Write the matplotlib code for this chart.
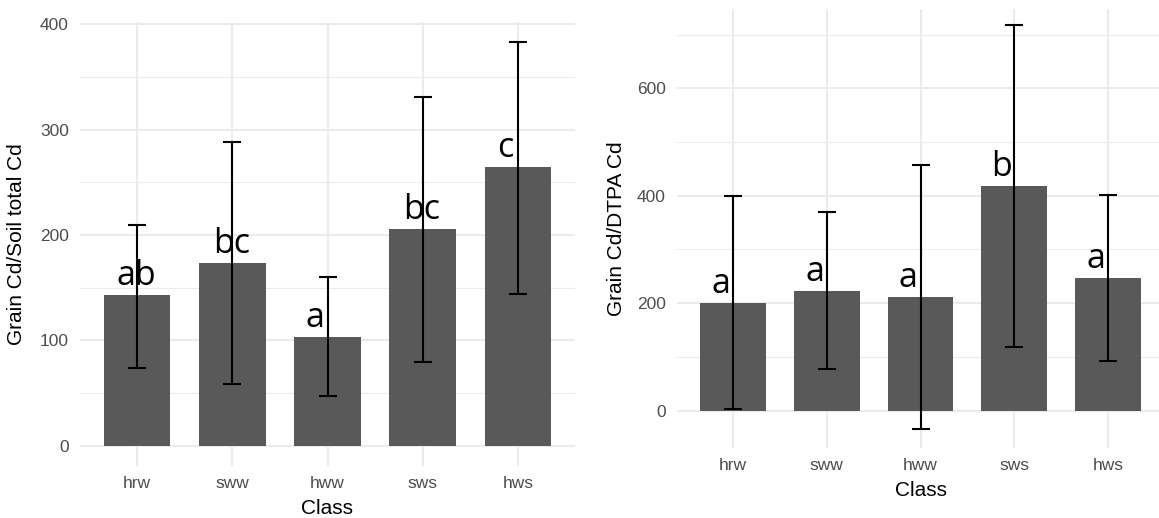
import matplotlib
matplotlib.use("Agg")
import matplotlib.pyplot as plt
from matplotlib.ticker import MultipleLocator

# Classes on the x axis
classes = ["hrw", "sww", "hww", "sws", "hws"]

# Grain Cd / soil total Cd: means, error-bar bounds and significance letters
soil_mean = [143, 173.5, 103, 205.5, 264.5]
soil_lo = [74, 58.5, 47, 79.5, 144]
soil_hi = [210, 288.5, 160, 331.5, 383]
soil_letters = ["ab", "bc", "a", "bc", "c"]

# Grain Cd / DTPA Cd: means, error-bar bounds and significance letters
dtpa_mean = [200, 222.5, 211.5, 418, 247]
dtpa_lo = [3.5, 77, -34, 119, 92.5]
dtpa_hi = [399, 369, 457, 718, 401.5]
dtpa_letters = ["a", "a", "a", "b", "a"]

AXIS_FONT = ["Liberation Sans", "DejaVu Sans"]
LETTER_FONT = ["Open Sans", "DejaVu Sans"]
GRID = "#ebebeb"


def panel(ax, means, lo, hi, letters, ylabel, ylim, major, label_x):
    x = list(range(1, len(classes) + 1))
    ax.bar(x, means, width=0.7, color="#595959", zorder=2)
    yerr = [[m - l for m, l in zip(means, lo)], [h - m for m, h in zip(means, hi)]]
    ax.errorbar(x, means, yerr=yerr, fmt="none", ecolor="black",
                elinewidth=1.5, capsize=6.7, capthick=1.5, zorder=3)
    for xi, m, lab in zip(x, means, letters):
        dx = -8.8 if len(lab) == 1 else -0.8
        ax.annotate(lab, xy=(xi, m), xytext=(dx, 7.5), textcoords="offset points",
                    ha="center", va="baseline", fontsize=24.5,
                    family=LETTER_FONT, color="black", zorder=4)

    ax.set_xlim(0.4, len(classes) + 0.6)
    ax.set_ylim(*ylim)
    ax.set_xticks(x)
    ax.set_xticklabels(classes)
    ax.yaxis.set_major_locator(MultipleLocator(major))
    ax.yaxis.set_minor_locator(MultipleLocator(major / 2))

    ax.grid(True, which="major", axis="both", color=GRID, lw=1.5, zorder=0)
    ax.grid(True, which="minor", axis="y", color=GRID, lw=0.8, zorder=0)
    ax.set_axisbelow(True)
    for s in ax.spines.values():
        s.set_visible(False)
    ax.tick_params(which="both", length=0)
    ax.tick_params(axis="x", pad=7, labelsize=12.5, labelcolor="#4d4d4d")
    ax.tick_params(axis="y", pad=8, labelsize=12.5, labelcolor="#4d4d4d")
    for t in ax.get_xticklabels() + ax.get_yticklabels():
        t.set_family(AXIS_FONT)

    ax.set_xlabel("Class", fontsize=15, family=AXIS_FONT, color="black")
    ax.set_ylabel(ylabel, fontsize=15, family=AXIS_FONT, color="black")
    ax.yaxis.set_label_coords(label_x, 0.5)


fig = plt.figure(figsize=(11.59, 5.18), dpi=100)
W, H = 1159, 518

ax1 = fig.add_axes([80 / W, 1 - 466 / H, 495 / W, 444 / H])
panel(ax1, soil_mean, soil_lo, soil_hi, soil_letters,
      "Grain Cd/Soil total Cd", (-19.15, 402.2), 100, -0.109)
ax1.xaxis.set_label_coords(0.5, -0.075)

ax2 = fig.add_axes([677 / W, 1 - 448.3 / H, 487 / W, 439 / H])
panel(ax2, dtpa_mean, dtpa_lo, dtpa_hi, dtpa_letters,
      "Grain Cd/DTPA Cd", (-70, 747), 200, -0.105)
ax2.xaxis.set_label_coords(0.5, -0.075)

fig.savefig("out.png", dpi=100, facecolor="white")
